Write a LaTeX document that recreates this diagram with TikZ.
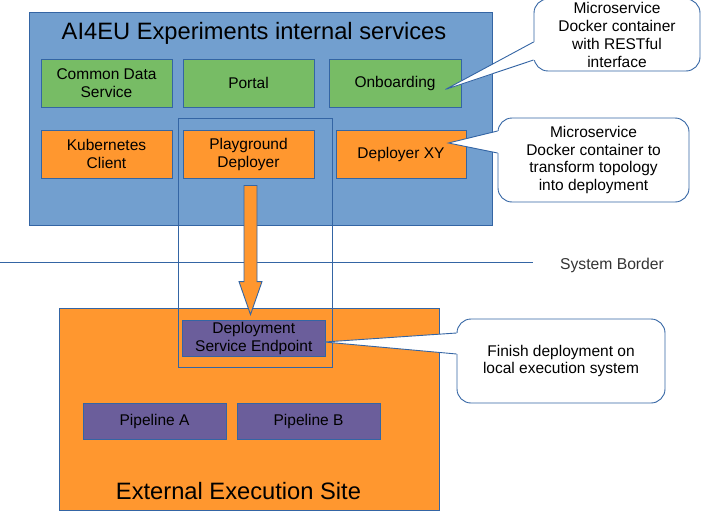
\documentclass[tikz,border=0pt]{standalone}
\usepackage{fontspec}
\setmainfont{Liberation Sans}
\usepackage{tikz}
\usetikzlibrary{calc,positioning}

\definecolor{lblue}{HTML}{729FCF}
\definecolor{dblue}{HTML}{3465A4}
\definecolor{lgreen}{HTML}{77BC65}
\definecolor{lorange}{HTML}{FF972F}
\definecolor{lpurple}{HTML}{6B5E9B}

\begin{document}
\begin{tikzpicture}[
    x=1pt, y=-1pt,
    area/.style={rectangle, draw=dblue, line width=0.9pt, inner sep=0pt},
    box/.style={rectangle, draw=dblue, line width=0.9pt, inner sep=0pt, minimum width=131pt, minimum height=48pt, align=center, font=\fontsize{15.5}{18}\selectfont},
    smallbox/.style={box, fill=lpurple, minimum width=143pt, minimum height=36pt},
    title/.style={anchor=base, font=\fontsize{23.7}{28}\selectfont},
    callout/.style={rectangle, draw=dblue, fill=white, line width=0.9pt, rounded corners=14pt, inner sep=0pt, align=center, font=\fontsize{15.5}{17.8}\selectfont},
    pointer/.style={draw=dblue, line width=0.9pt},
    bigarrow/.style={draw=dblue, fill=lorange, line width=0.9pt, line join=miter}
]
\useasboundingbox (0,0) rectangle (701,511);
\clip (0,0) rectangle (701,511);

% Internal services
\node[area, fill=lblue, minimum width=463pt, minimum height=213pt] (internal) at (260.5,118.5) {};
\node[title] (inttitle) at (254,39.5) {AI4EU Experiments internal services};

\node[box, fill=lgreen] (cds) at (106.5,83) {Common Data\\Service};
\node[box, fill=lgreen] (portal) at (248.5,83) {Portal};
\node[box, fill=lgreen, minimum width=132pt] (onboard) at (395,83) {Onboarding};
\node[box, fill=lorange] (kube) at (106.5,154) {Kubernetes\\Client};
\node[box, fill=lorange] (play) at (248.5,154) {Playground\\Deployer};
\node[box, fill=lorange, minimum width=130pt] (depxy) at (401,154) {Deployer XY};

% External site
\node[area, fill=lorange, minimum width=380pt, minimum height=201.5pt] (external) at (249.5,409.25) {};
\node[title] (exttitle) at (238.5,499.5) {External Execution Site};

\node[area, minimum width=154pt, minimum height=249pt] (playzone) at (255,242.5) {};
\node[smallbox, minimum width=143.5pt] (dse) at (253.75,338) {Deployment\\Service Endpoint};
\node[smallbox] (pipea) at (154.5,421) {Pipeline A};
\node[smallbox] (pipeb) at (308.5,421) {Pipeline B};

% System border
\coordinate (borderL) at (0,262);
\coordinate (borderR) at (533,262);
\draw[dblue, line width=0.9pt] (borderL) -- (borderR);
\node[anchor=base, text=black!80, font=\fontsize{15.7}{18}\selectfont] (borderlabel) at (612,269.3) {System Border};

% Deploy arrow
\coordinate (astart) at ($(play.south)+(2,7)$);
\coordinate (aend) at ($(dse.north)+(-3.25,-5)$);
\filldraw[bigarrow] ($(astart)+(-6.5,0)$) -- ($(astart)+(6.5,0)$) -- ($(aend)+(6.5,-33)$) -- ($(aend)+(11.5,-33)$)
    -- (aend) -- ($(aend)+(-11.5,-33)$) -- ($(aend)+(-6.5,-33)$) -- cycle;

% Callouts
\node[callout, minimum width=166pt, minimum height=72pt] (callA) at (617,35) {Microservice\\Docker container\\with RESTful\\interface};
\node[callout, minimum width=191pt, minimum height=84pt] (callB) at (593.5,160) {Microservice\\Docker container to\\transform topology\\into deployment};
\node[callout, minimum width=208pt, minimum height=84pt] (callC) at (561,361) {Finish deployment on\\local execution system};

\coordinate (tipA) at ($(onboard.south east)+(-16,-18)$);
\coordinate (tipB) at ($(depxy.east)+(-18,-11)$);
\coordinate (tipC) at ($(dse.east)+(-1.5,4)$);

\foreach \c/\t/\a/\b in {callA/tipA/7/25, callB/tipB/-29/-7, callC/tipC/-28/-7} {
    \fill[white] ($(\c.west)+(1.2,\a)$) -- (\t) -- ($(\c.west)+(1.2,\b)$) -- cycle;
    \draw[pointer] ($(\c.west)+(0,\a)$) -- (\t) -- ($(\c.west)+(0,\b)$);
}

\end{tikzpicture}
\end{document}
